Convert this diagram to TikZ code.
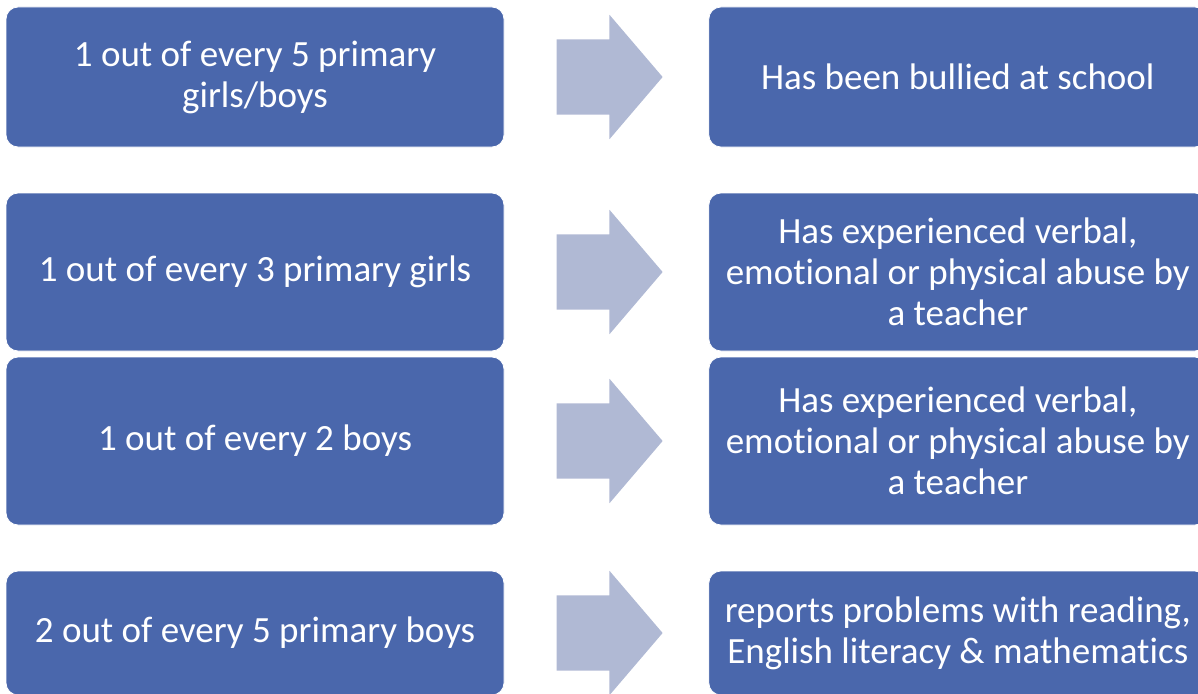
\documentclass[tikz,border=0pt]{standalone}
\usepackage{fontspec}
\setmainfont[Ligatures=NoCommon]{Carlito}
\usetikzlibrary{shapes.arrows, positioning}
\definecolor{boxBlue}{RGB}{74,103,172}
\definecolor{arrowGris}{RGB}{176,185,212}

\tikzset{
  statbox/.style={rectangle, rounded corners=12pt, draw=white, line width=0.8pt,
                  fill=boxBlue, text=white, minimum width=498pt, align=center,
                  inner sep=0pt, font=\fontsize{37}{41}\selectfont},
  flecha/.style={single arrow, fill=arrowGris, minimum height=106pt, inner xsep=0pt,
                 inner ysep=37.5pt, single arrow head extend=24.5pt, single arrow tip angle=99}
}

\begin{document}
\begin{tikzpicture}[x=1pt, y=-1pt]
  \useasboundingbox (0,0) rectangle (1198,693);
  % grupos
  \node[statbox, minimum height=140pt] (grupoA) at (255,77) {1 out of every 5 primary\\girls/boys};
  \node[statbox, minimum height=158pt] (grupoB) at (255,272) {1 out of every 3 primary girls};
  \node[statbox, minimum height=168pt] (grupoC) at (255,441) {1 out of every 2 boys};
  \node[statbox, minimum height=124pt] (grupoD) at (255,633) {2 out of every 5 primary boys};
  % flechas
  \node[flecha, right=52pt of grupoA] (flechaA) {};
  \node[flecha, right=52pt of grupoB] (flechaB) {};
  \node[flecha, right=52pt of grupoC] (flechaC) {};
  \node[flecha, right=52pt of grupoD] (flechaD) {};
  % resultados
  \node[statbox, minimum height=140pt, right=204pt of grupoA] (resA) {Has been bullied at school};
  \node[statbox, minimum height=158pt, right=204pt of grupoB] (resB) {Has experienced verbal,\\emotional or physical abuse by\\a teacher};
  \node[statbox, minimum height=168pt, right=204pt of grupoC] (resC) {Has experienced verbal,\\emotional or physical abuse by\\a teacher};
  \node[statbox, minimum height=124pt, right=204pt of grupoD] (resD) {reports problems with reading,\\English literacy \& mathematics};
\end{tikzpicture}
\end{document}
